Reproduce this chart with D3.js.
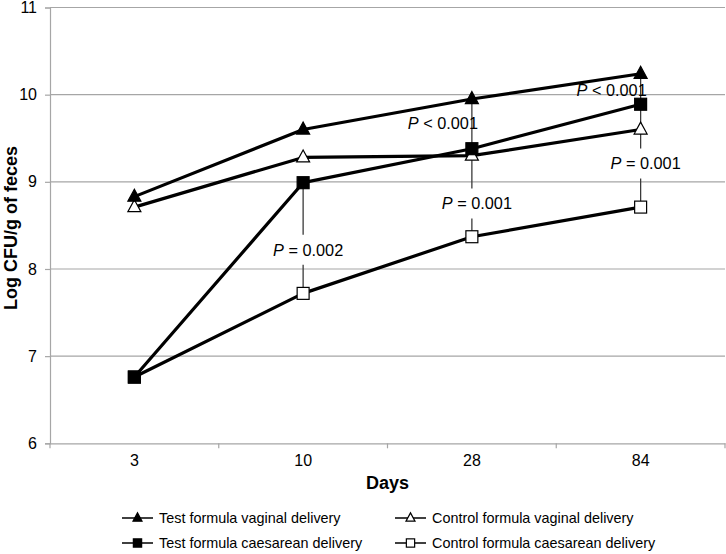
<!DOCTYPE html>
<html><head><meta charset="utf-8">
<script src="https://cdn.jsdelivr.net/npm/d3@7"></script>
<style>body{margin:0;background:#fff}svg{display:block;font-family:"Liberation Sans",Arial,sans-serif}</style>
</head><body><svg id="c" width="726" height="554"></svg>
<script>
const days = ["3", "10", "28", "84"];
const yTicks = [6, 7, 8, 9, 10, 11];
const testVaginal = [8.83, 9.60, 9.95, 10.24];
const controlVaginal = [8.71, 9.28, 9.30, 9.60];
const testCaesarean = [6.76, 8.99, 9.38, 9.89];
const controlCaesarean = [6.76, 7.72, 8.37, 8.71];
const seriesNames = ["Test formula vaginal delivery", "Control formula vaginal delivery",
  "Test formula caesarean delivery", "Control formula caesarean delivery"];
// annotations: day, bracket top value, bracket bottom value, label text, label value (y)
const pDays = ["10", "28", "84"];
const pTop = [8.99, 9.95, 10.24];
const pBottom = [7.72, 8.37, 8.71];
const pLabelsA = [null, "< 0.001", "< 0.001"];
const pLabelsAY = [null, 9.67, 10.05];
const pLabelsB = ["= 0.002", "= 0.001", "= 0.001"];
const pLabelsBY = [8.22, 8.75, 9.21];

const svg = d3.select("#c");
const m = {l: 50, r: 1, t: 7.5, b: 110.7};
const W = 726, H = 554;
const x = d3.scaleBand().domain(days).range([m.l, W - m.r]);
const y = d3.scaleLinear().domain([6, 11]).range([H - m.b, m.t]);
const grid = "#a6a6a6";

// gridlines
svg.append("g").selectAll("line").data(yTicks.slice(1)).join("line")
  .attr("x1", m.l).attr("x2", W - m.r).attr("y1", d => y(d)).attr("y2", d => y(d))
  .attr("stroke", grid).attr("stroke-width", 1.2);

// y axis
const ya = svg.append("g").attr("transform", `translate(${m.l},0)`)
  .call(d3.axisLeft(y).tickValues(yTicks).tickFormat(d3.format("d")).tickSize(5).tickPadding(8));
ya.select(".domain").attr("stroke", grid).attr("stroke-width", 1.2);
ya.selectAll(".tick line").attr("stroke", grid).attr("stroke-width", 1.2);
ya.selectAll("text").attr("font-size", 16).attr("fill", "#000").attr("font-family", "Liberation Sans, Arial");

// x axis
const xa = svg.append("g").attr("transform", `translate(0,${y(6)})`)
  .call(d3.axisBottom(x).tickSize(0).tickPadding(11));
xa.select(".domain").attr("stroke", grid).attr("stroke-width", 1.2);
xa.selectAll("text").attr("font-size", 16).attr("fill", "#000").attr("font-family", "Liberation Sans, Arial");
// band boundary ticks
const bounds = days.map(d => x(d)).concat([x(days[days.length - 1]) + x.bandwidth()]);
svg.append("g").selectAll("line").data(bounds).join("line")
  .attr("x1", d => d).attr("x2", d => d).attr("y1", y(6)).attr("y2", y(6) + 5)
  .attr("stroke", grid).attr("stroke-width", 1.2);

// axis titles
svg.append("text").attr("x", (m.l + W - m.r) / 2).attr("y", 488.5).attr("text-anchor", "middle")
  .attr("font-size", 18).attr("font-weight", "bold").text("Days");
svg.append("text").attr("transform", `translate(16.5,228) rotate(-90)`)
  .attr("text-anchor", "middle").attr("font-size", 18).attr("font-weight", "bold")
  .text("Log CFU/g of feces");

const cx = d => x(d) + x.bandwidth() / 2;

// P-value brackets
const gap = 15;
pDays.forEach((d, i) => {
  const X = cx(d);
  const top = y(pTop[i]), bot = y(pBottom[i]), ly = y(pLabelsBY[i]);
  const g = svg.append("g");
  g.append("line").attr("x1", X).attr("x2", X).attr("y1", top).attr("y2", ly - gap)
    .attr("stroke", "#3a3a3a").attr("stroke-width", 1.3);
  g.append("line").attr("x1", X).attr("x2", X).attr("y1", ly + gap).attr("y2", bot)
    .attr("stroke", "#3a3a3a").attr("stroke-width", 1.3);
});

// series lines
const series = [
  {v: testVaginal, shape: "tri", fill: "#000"},
  {v: controlVaginal, shape: "tri", fill: "#fff"},
  {v: testCaesarean, shape: "sq", fill: "#000"},
  {v: controlCaesarean, shape: "sq", fill: "#fff"}
];
const line = d3.line().x((d, i) => cx(days[i])).y(d => y(d));
series.forEach(s => {
  svg.append("path").attr("d", line(s.v)).attr("fill", "none")
    .attr("stroke", "#000").attr("stroke-width", 3.2).attr("stroke-linejoin", "round");
});

function marker(g, shape, fill, X, Y, sz) {
  if (shape === "tri") {
    const w = sz, h = sz * 0.92;
    g.append("path").attr("d", `M${X},${Y - h * 0.62}L${X + w / 2},${Y + h * 0.38}L${X - w / 2},${Y + h * 0.38}Z`)
      .attr("fill", fill).attr("stroke", "#000").attr("stroke-width", 1.2);
  } else {
    const s = sz * 0.92;
    g.append("rect").attr("x", X - s / 2).attr("y", Y - s / 2).attr("width", s).attr("height", s)
      .attr("fill", fill).attr("stroke", "#000").attr("stroke-width", 1.2);
  }
}
// draw markers: open first then filled
[1, 3, 0, 2].forEach(k => {
  const s = series[k];
  const g = svg.append("g");
  s.v.forEach((v, i) => marker(g, s.shape, s.fill, cx(days[i]), y(v), 13));
});

// P labels
function pText(X, Y, t) {
  const tx = svg.append("text").attr("x", X).attr("y", Y).attr("dy", "0.35em")
    .attr("text-anchor", "middle").attr("font-size", 16.3).attr("fill", "#000");
  tx.append("tspan").attr("font-style", "italic").text("P");
  tx.append("tspan").text(" " + t);
}
pDays.forEach((d, i) => {
  const X = cx(d);
  pText(X + 5, y(pLabelsBY[i]), pLabelsB[i]);
  if (pLabelsA[i]) pText(X - 29, y(pLabelsAY[i]), pLabelsA[i]);
});

// legend
const legX = [122, 395];
const legY = [518, 543];
seriesNames.forEach((n, i) => {
  const s = series[i];
  const lx = legX[i % 2], ly = legY[Math.floor(i / 2)];
  const g = svg.append("g");
  g.append("line").attr("x1", lx).attr("x2", lx + 31).attr("y1", ly).attr("y2", ly)
    .attr("stroke", "#000").attr("stroke-width", 1.5);
  marker(g, s.shape, s.fill, lx + 15.5, ly, 9);
  g.append("text").attr("x", lx + 37).attr("y", ly).attr("dy", "0.35em")
    .attr("font-size", 14.4).attr("fill", "#000").text(n);
});
</script></body></html>
